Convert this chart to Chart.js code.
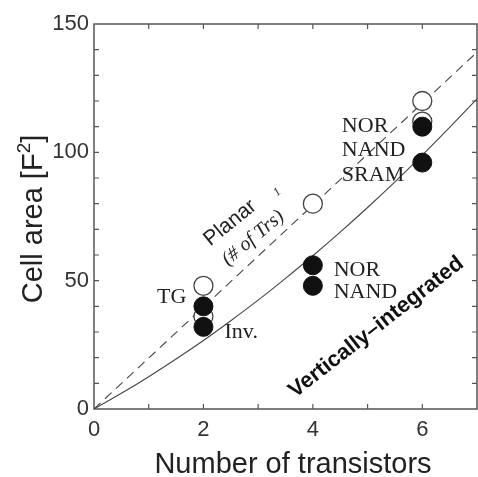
<!DOCTYPE html>
<html lang="en">
<head>
  <meta charset="UTF-8" />
  <title>Cell area vs number of transistors</title>
  <script src="https://cdn.jsdelivr.net/npm/chart.js"></script>
  <style>
    html, body { margin: 0; padding: 0; background: #fff; overflow: hidden; }
    canvas { display: block; }
  </style>
</head>
<body>
  <canvas id="chart" width="478" height="477"></canvas>

  <script>
    // data
    const planarN = [2, 2, 4, 6, 6];
    const planarArea = [48, 36, 80, 120, 112];
    const vertN = [2, 2, 4, 4, 6, 6];
    const vertArea = [40, 32, 56, 48, 110, 96];

    const planarLineN = [0, 7];
    const planarLineArea = [0, 139];
    const vertCurveN = [0, 0.5, 1, 1.5, 2, 2.5, 3, 3.5, 4, 4.5, 5, 5.5, 6, 6.5, 7];
    const vertCurveArea = [0, 6.1, 12.6, 19.5, 26.7, 34.4, 42.4, 50.9, 59.7, 68.9, 78.5, 88.5, 98.9, 109.7, 120.8];

    const xTickLabels = [0, 2, 4, 6];
    const yTickLabels = [0, 50, 100, 150];

    const toPts = (xs, ys) => xs.map((x, i) => ({ x, y: ys[i] }));

    const SERIF = '"Liberation Serif", "DejaVu Serif", serif';
    const SANS = '"Liberation Sans", Arial, sans-serif';

    // box with inward ticks on all four sides
    const framePlugin = {
      id: 'frame',
      beforeDatasetsDraw(chart) {
        const { ctx, chartArea: a, scales: { x, y } } = chart;
        ctx.save();
        ctx.strokeStyle = '#555';
        ctx.lineWidth = 1.5;
        ctx.strokeRect(a.left, a.top, a.right - a.left, a.bottom - a.top);
        ctx.lineWidth = 1.2;
        ctx.beginPath();
        for (let v = 1; v < 7; v++) {
          const px = x.getPixelForValue(v);
          ctx.moveTo(px, a.bottom); ctx.lineTo(px, a.bottom - 5);
          ctx.moveTo(px, a.top); ctx.lineTo(px, a.top + 5);
        }
        for (let v = 10; v < 150; v += 10) {
          const py = y.getPixelForValue(v);
          ctx.moveTo(a.left, py); ctx.lineTo(a.left + 5, py);
          ctx.moveTo(a.right, py); ctx.lineTo(a.right - 5, py);
        }
        ctx.stroke();
        ctx.restore();
      }
    };

    function rotText(ctx, txt, px, py, deg, font, align) {
      ctx.save();
      ctx.translate(px, py);
      ctx.rotate(deg * Math.PI / 180);
      ctx.font = font;
      ctx.textAlign = align || 'center';
      ctx.textBaseline = 'middle';
      ctx.fillText(txt, 0, 0);
      ctx.restore();
    }

    const labelPlugin = {
      id: 'labels',
      afterDraw(chart) {
        const { ctx, scales: { x, y } } = chart;
        const X = v => x.getPixelForValue(v);
        const Y = v => y.getPixelForValue(v);
        ctx.save();
        ctx.fillStyle = '#222';

        // axis titles
        ctx.font = '29px ' + SANS;
        ctx.textAlign = 'center';
        ctx.textBaseline = 'alphabetic';
        ctx.fillText('Number of transistors', 293, 473);

        ctx.save();
        ctx.translate(42, 219);
        ctx.rotate(-Math.PI / 2);
        ctx.font = '29px ' + SANS;
        ctx.textBaseline = 'alphabetic';
        const main = 'Cell area [F';
        const w1 = ctx.measureText(main).width;
        ctx.font = '19px ' + SANS;
        const w2 = ctx.measureText('2').width;
        ctx.font = '29px ' + SANS;
        const w3 = ctx.measureText(']').width;
        let sx = -(w1 + w2 + w3) / 2;
        ctx.textAlign = 'left';
        ctx.fillText(main, sx, 0);
        ctx.font = '19px ' + SANS;
        ctx.fillText('2', sx + w1, -12);
        ctx.font = '29px ' + SANS;
        ctx.fillText(']', sx + w1 + w2, 0);
        ctx.restore();

        // annotations
        rotText(ctx, 'Planar', X(2.49), Y(72.5), -39, '21px ' + SANS);
        rotText(ctx, '(# of Trs)', X(2.91), Y(66.6), -40, 'italic 20px ' + SERIF);
        rotText(ctx, '1', X(3.35), Y(84.5), -40, 'italic 12px ' + SERIF);
        rotText(ctx, 'TG', X(1.42), Y(43.6), 0, '22px ' + SERIF);
        rotText(ctx, 'Inv.', X(2.69), Y(30), 0, '22px ' + SERIF);
        rotText(ctx, 'NOR', X(4.38), Y(54.1), 0, '22px ' + SERIF, 'left');
        rotText(ctx, 'NAND', X(4.38), Y(45.6), 0, '22px ' + SERIF, 'left');
        rotText(ctx, 'NOR', X(4.53), Y(110.2), 0, '22px ' + SERIF, 'left');
        rotText(ctx, 'NAND', X(4.53), Y(100.9), 0, '22px ' + SERIF, 'left');
        rotText(ctx, 'SRAM', X(4.53), Y(91.2), 0, '22px ' + SERIF, 'left');
        ctx.fillStyle = '#111';
        rotText(ctx, 'Vertically\u2013integrated', X(5.16), Y(31.9), -38, 'bold 22px ' + SANS);
        ctx.restore();
      }
    };

    new Chart(document.getElementById('chart'), {
      type: 'scatter',
      data: {
        datasets: [
          {
            label: 'Vertically-integrated',
            data: toPts(vertN, vertArea),
            pointRadius: 9.5,
            pointBackgroundColor: '#111',
            pointBorderColor: '#111',
            pointBorderWidth: 1,
            order: 0
          },
          {
            label: 'Planar',
            data: toPts(planarN, planarArea),
            pointRadius: 9.5,
            pointBackgroundColor: '#fff',
            pointBorderColor: '#444',
            pointBorderWidth: 1.3,
            order: 1
          },
          {
            label: 'Planar fit',
            type: 'line',
            data: toPts(planarLineN, planarLineArea),
            borderColor: '#444',
            borderWidth: 1.1,
            borderDash: [9, 6],
            pointRadius: 0,
            fill: false,
            order: 2
          },
          {
            label: 'Vertical fit',
            type: 'line',
            data: toPts(vertCurveN, vertCurveArea),
            borderColor: '#444',
            borderWidth: 1.1,
            cubicInterpolationMode: 'monotone',
            pointRadius: 0,
            fill: false,
            order: 3
          }
        ]
      },
      options: {
        responsive: false,
        animation: false,
        layout: { autoPadding: false, padding: { top: 24, right: 1, left: 0, bottom: 0 } },
        plugins: { legend: { display: false }, tooltip: { enabled: false } },
        scales: {
          x: {
            type: 'linear',
            min: 0, max: 7,
            grid: { display: false, drawTicks: false },
            border: { display: false },
            afterFit: s => { s.height = 68; s.paddingLeft = 0; s.paddingRight = 0; },
            afterBuildTicks: s => { s.ticks = xTickLabels.map(v => ({ value: v })); },
            ticks: {
              padding: 8,
              color: '#333',
              font: { family: SANS, size: 22 },
              maxRotation: 0
            }
          },
          y: {
            type: 'linear',
            min: 0, max: 150,
            grid: { display: false, drawTicks: false },
            border: { display: false },
            afterFit: s => { s.width = 94; s.paddingTop = 0; s.paddingBottom = 0; },
            afterBuildTicks: s => { s.ticks = yTickLabels.map(v => ({ value: v })); },
            ticks: {
              padding: 5,
              color: '#333',
              font: { family: SANS, size: 22 }
            }
          }
        }
      },
      plugins: [framePlugin, labelPlugin]
    });
  </script>
</body>
</html>
